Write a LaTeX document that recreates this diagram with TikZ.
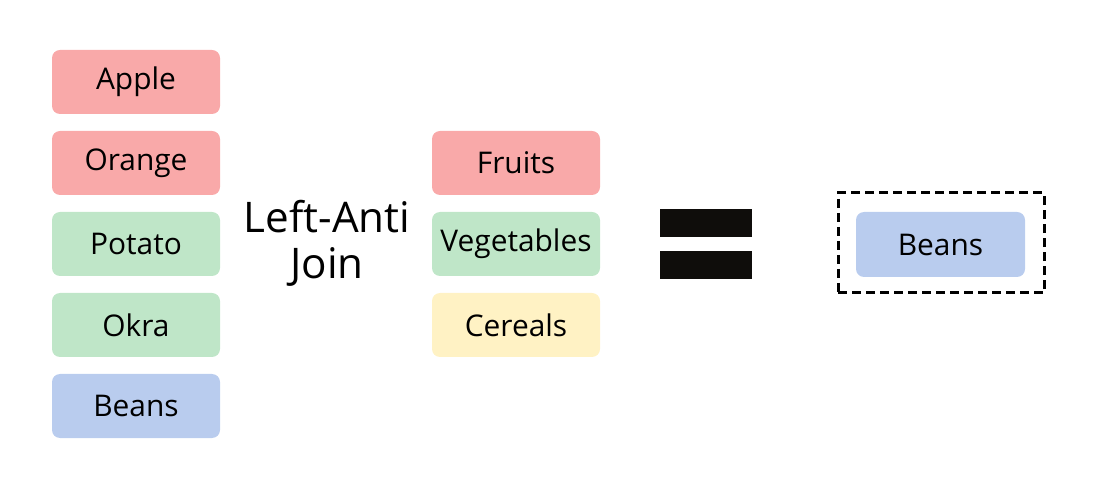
\documentclass[tikz,border=0pt]{standalone}
\usepackage{fontspec}
\setmainfont{Open Sans}
\usetikzlibrary{positioning}
\definecolor{fruitred}{HTML}{F9A9A9}
\definecolor{veggreen}{HTML}{BFE6C8}
\definecolor{beanblue}{HTML}{B9CCEE}
\definecolor{cerealyellow}{HTML}{FFF2C4}
\definecolor{bar}{HTML}{0F0D0B}
\tikzset{
  item/.style={rounded corners=0.08cm, minimum width=1.68cm, minimum height=0.64cm,
    inner sep=0pt, outer sep=0pt, font=\fontsize{8.5}{10}\selectfont},
  eqbar/.style={fill=bar, minimum width=0.92cm, minimum height=0.28cm, inner sep=0pt, outer sep=0pt}
}
\begin{document}
\begin{tikzpicture}
\useasboundingbox (0,0) rectangle (11.09,4.85);
% left table
\node[item, fill=fruitred] (apple) at (1.36,4.03) {Apple};
\node[item, fill=fruitred, below=0.17cm of apple] (orange) {Orange};
\node[item, fill=veggreen, below=0.17cm of orange] (potato) {Potato};
\node[item, fill=veggreen, below=0.17cm of potato] (okra) {Okra};
\node[item, fill=beanblue, below=0.17cm of okra] (beans) {Beans};
% join label
\node[align=center, font=\fontsize{12}{13}\selectfont] (join) at (3.27,2.42) {Left-Anti\\Join};
% right table
\node[item, fill=fruitred] (fruits) at (5.16,3.22) {Fruits};
\node[item, fill=veggreen, below=0.17cm of fruits] (vegetables) {Vegetables};
\node[item, fill=cerealyellow, below=0.17cm of vegetables] (cereals) {Cereals};
% equals sign
\node[eqbar] (eqtop) at (7.06,2.62) {};
\node[eqbar, below=0.14cm of eqtop] (eqbottom) {};
% result
\node[draw, line width=0.03cm, dash pattern=on 0.09cm off 0.05cm,
  minimum width=2.06cm, minimum height=1.00cm] (result) at (9.41,2.42) {};
\node[item, fill=beanblue, minimum width=1.69cm, minimum height=0.65cm] (resbeans) at (9.405,2.405) {Beans};
\end{tikzpicture}
\end{document}
